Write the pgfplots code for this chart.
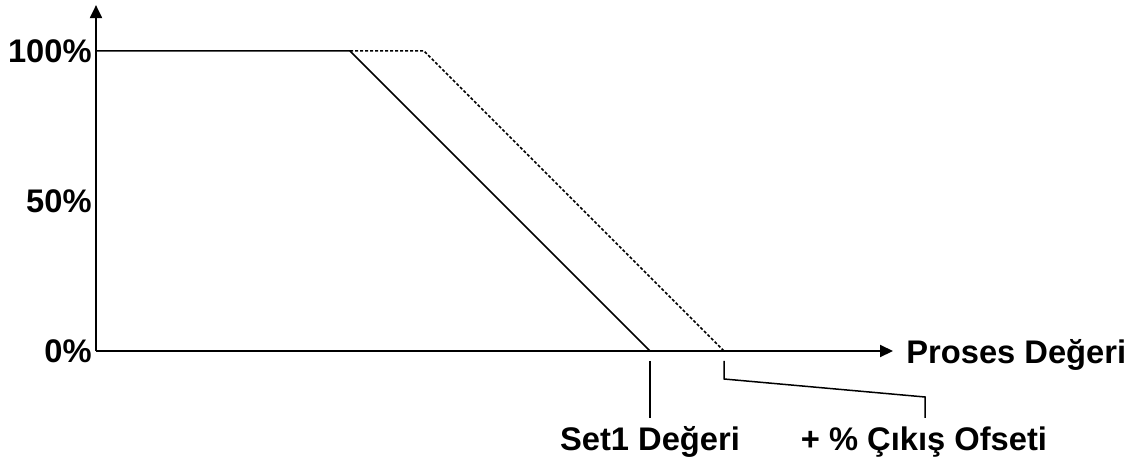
\documentclass[border=0pt]{standalone}
\usepackage{pgfplots}
\pgfplotsset{compat=1.18}
\usepackage{fontspec}
\setmainfont{Liberation Sans}
\usetikzlibrary{arrows.meta}
\begin{document}
\begin{tikzpicture}
\begin{axis}[
  x=0.5bp, y=1.5bp,
  xmin=0, xmax=797, ymin=0, ymax=115.3,
  axis lines=left,
  axis line style={line width=1bp,-{Triangle[length=6.5bp,width=6bp]}},
  clip=false,
  xtick=\empty, ytick={0,50,100},
  yticklabels={0\%,50\%,100\%},
  major tick length=0pt,
  yticklabel style={font=\fontsize{16.4}{18}\selectfont\bfseries,inner sep=0pt,xshift=-2bp},
]
\addplot[black,line width=0.75bp] coordinates {(0,100) (254,100) (554,0)};
\addplot[black,line width=0.75bp,dash pattern=on 1.5bp off 1bp] coordinates {(254,100) (328,100) (628,0)};
% callout lines
\addplot[black,line width=0.75bp] coordinates {(554,-3.33) (554,-22.33)};
\addplot[black,line width=0.75bp] coordinates {(628,-3.33) (628,-9.33) (829,-15.33) (829,-22.33)};
\node[anchor=base west,inner sep=0pt,font=\fontsize{16.4}{18}\selectfont\bfseries] at (axis cs:810,-4.33) {Proses Değeri};
\node[anchor=base,inner sep=0pt,font=\fontsize{16.4}{18}\selectfont\bfseries] at (axis cs:554,-33.33) {Set1 Değeri};
\node[anchor=base,inner sep=0pt,font=\fontsize{16.4}{18}\selectfont\bfseries] at (axis cs:828,-33.33) {+ \% Çıkış Ofseti};
\path (axis cs:-96,117) rectangle (axis cs:1041,-37.67);
\end{axis}
\end{tikzpicture}
\end{document}
